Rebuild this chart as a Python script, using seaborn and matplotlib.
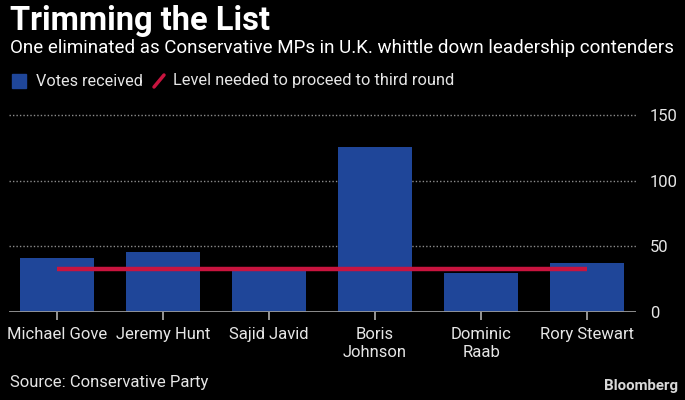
import matplotlib
matplotlib.use("Agg")
import matplotlib.pyplot as plt
import matplotlib.patches as mpatches
from matplotlib.lines import Line2D
import seaborn as sns
import pandas as pd

# data
candidates = ["Michael Gove", "Jeremy Hunt", "Sajid Javid", "Boris\nJohnson", "Dominic\nRaab", "Rory Stewart"]
votes = [41, 46, 33, 126, 30, 37]
threshold = 33
yticks = [0, 50, 100, 150]

BLUE = "#1f4699"
RED = "#c8143f"
TXT = "#e6e6e6"
GREY = "#8c8c8c"

sns.set_style("dark")
plt.rcParams["font.family"] = ["Roboto", "DejaVu Sans"]
plt.rcParams["xtick.bottom"] = True

df = pd.DataFrame({"candidate": candidates, "votes": votes})

fig = plt.figure(figsize=(6.85, 4.0), dpi=100, facecolor="black")
ax = fig.add_axes([9 / 685, 1 - 312 / 400, (636 - 9) / 685, (312 - 115) / 400])
ax.set_facecolor("black")

sns.barplot(data=df, x="candidate", y="votes", color=BLUE, width=0.7,
            saturation=1, linewidth=0, edgecolor="none", ax=ax, zorder=2)
ax.hlines(threshold, 0, len(candidates) - 1, color=RED, lw=3.2, zorder=3)

ax.set_xlim(-0.45, len(candidates) - 1 + 0.46)
ax.set_ylim(0, 150)
ax.set_yticks(yticks)
ax.yaxis.tick_right()
ax.set_xlabel("")
ax.set_ylabel("")
ax.grid(False)
for v in yticks[1:]:
    ax.axhline(v, color=GREY, lw=1, ls=(0, (1, 1.5)), zorder=1, clip_on=False)
ax.axhline(0, color="#9a9a9a", lw=2, zorder=4)

for s in ax.spines.values():
    s.set_visible(False)
ax.tick_params(axis="y", length=0, pad=10, labelsize=12, labelcolor=TXT)
ax.tick_params(axis="x", which="major", bottom=True, top=False, length=6,
               width=1.2, color="#b0b0b0", direction="out", pad=5,
               labelsize=12, labelcolor=TXT)
for t in ax.xaxis.get_major_ticks():
    t.tick1line.set_visible(True)
    t.tick1line.set_markeredgecolor("#b0b0b0")

fig.text(10 / 685, 1 - 21 / 400, "Trimming the List", color="white",
         fontsize=23.5, fontweight="bold", va="center", ha="left")
fig.text(10 / 685, 1 - 48 / 400,
         "One eliminated as Conservative MPs in U.K. whittle down leadership contenders",
         color="white", fontsize=13.5, va="center", ha="left")

# legend
fig.patches.append(mpatches.Rectangle((12 / 685, 1 - 88 / 400), 14 / 685, 14 / 400,
                                      transform=fig.transFigure, color=BLUE))
fig.text(36 / 685, 1 - 81 / 400, "Votes received", color=TXT, fontsize=11.7,
         va="center", ha="left")
fig.lines.append(Line2D([154 / 685, 164 / 685], [1 - 87 / 400, 1 - 75 / 400],
                        transform=fig.transFigure, color=RED, lw=2.5))
fig.text(173 / 685, 1 - 81 / 400, "Level needed to proceed to third round",
         color=TXT, fontsize=11.8, va="center", ha="left")

fig.text(10 / 685, 1 - 382 / 400, "Source: Conservative Party", color=TXT,
         fontsize=12, va="center", ha="left")
fig.text(678 / 685, 1 - 386 / 400, "Bloomberg", color="#d8d8d8", fontsize=10.8,
         fontweight="bold", va="center", ha="right")

fig.savefig("out.png", dpi=100, facecolor="black")
